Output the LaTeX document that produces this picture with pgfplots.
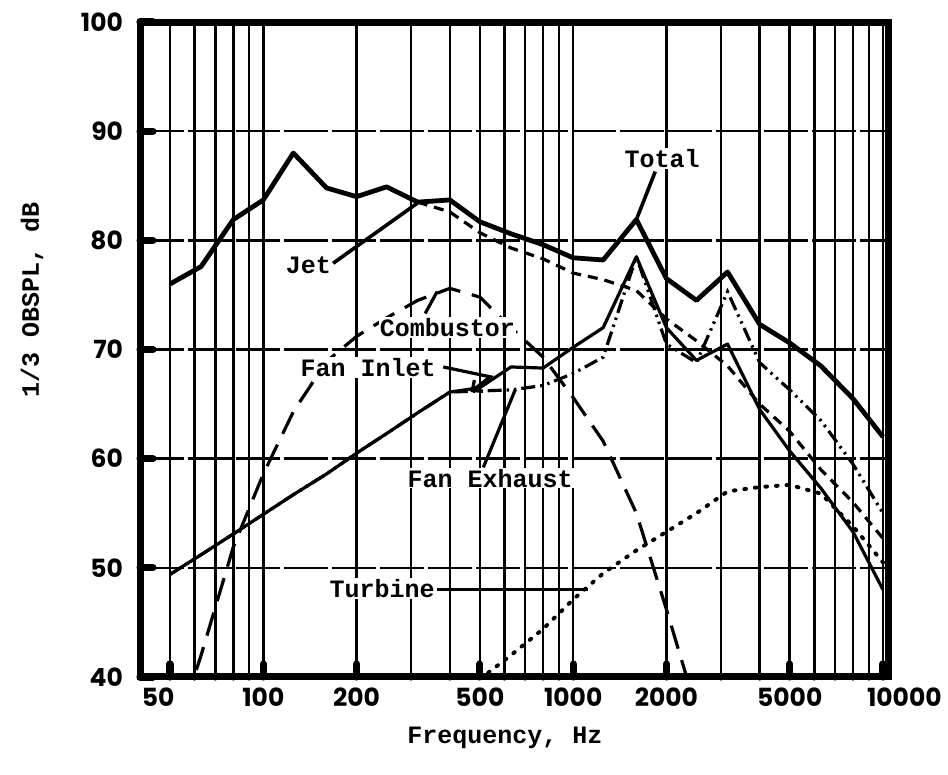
\documentclass[border=0pt]{standalone}
\usepackage{fontspec}
\usepackage{pgfplots}
\pgfplotsset{compat=1.18}
\usetikzlibrary{arrows.meta}
\newfontfamily\tw{Liberation Mono}
\newfontfamily\numfont{Poppins}
\newcommand{\lbl}{\tw\bfseries\fontsize{12.5}{14}\selectfont}

\begin{document}
\begin{tikzpicture}
\begin{axis}[
  at={(0,0)}, anchor=south west,
  scale only axis, width=374pt, height=327.5pt,
  xmode=log, xmin=40, xmax=10380, ymin=40, ymax=100,
  xtick={50,100,200,500,1000,2000,5000,10000},
  xticklabels={\makebox[0pt]{\hspace*{-12pt}50},100,200,500,1000,2000,5000,\makebox[0pt][l]{\hspace*{-8pt}10000}},
  minor xtick={60,70,80,90,300,400,600,700,800,900,3000,4000,6000,7000,8000,9000},
  ytick={40,50,...,100},
  yticklabels={40,50,60,70,80,90,100},
  grid=both,
  major grid style={black, line width=1.3pt},
  minor grid style={black, line width=1.3pt},
  y grid style={dash pattern=on 22pt off 2pt},
  tick align=inside, tick pos=left,
  major tick length=6.5pt, minor tick length=0pt,
  tick style={black, line width=3.6pt, line cap=round},
  axis line style={black, line width=3.5pt},
  ticklabel style={font=\numfont\bfseries\fontsize{12.5}{14}\selectfont},
  yticklabel style={xshift=-5pt},
  xticklabel style={yshift=-2pt},
  clip=true,
]
% Total
\addplot[black, line width=2.4pt, line join=round] coordinates {
(50,76.0) (63,77.6) (80,81.9) (100,83.7) (125,88.0) (160,84.8) (200,84.0)
(250,84.9) (315,83.5) (400,83.7) (500,81.7) (630,80.6) (800,79.6) (1000,78.4)
(1250,78.2) (1600,81.9) (2000,76.5) (2500,74.5) (3150,77.1) (4000,72.3)
(5000,70.6) (6300,68.5) (8000,65.5) (10000,62.0)};
% Jet (follows Total below 315 Hz)
\addplot[black, line width=1.6pt, dash pattern=on 5pt off 3.5pt] coordinates {
(315,83.5) (400,82.6) (500,80.7) (630,79.3) (800,78.3) (1000,77.0) (1250,76.4)
(1600,75.4) (2000,72.8) (2500,70.8) (3150,68.5) (4000,65.0) (5000,62.5)
(6300,59.0) (8000,56.0) (10000,52.7)};
% Combustor
\addplot[black, line width=1.6pt, dash pattern=on 12pt off 6pt] coordinates {
(56,37.5) (63,42.0) (80,51.9) (100,58.6) (125,64.3) (160,68.9) (200,71.2)
(250,72.9) (315,74.5) (400,75.6) (500,74.8) (630,72.0) (800,69.3) (1000,65.6)
(1250,61.6) (1600,55.0) (2000,46.2) (2500,37.0)};
% Fan inlet
\addplot[black, line width=1.6pt, line join=round] coordinates {
(50,49.4) (63,51.2) (80,53.1) (100,54.9) (125,56.7) (160,58.6) (200,60.5)
(250,62.3) (315,64.2) (400,66.1) (500,66.5) (630,68.4) (800,68.3) (1000,70.2)
(1250,72.0) (1600,78.5) (2000,72.0) (2500,69.0) (3150,70.5) (4000,64.5)
(5000,60.7) (6300,57.3) (8000,53.3) (10000,48.0)};
% Fan exhaust
\addplot[black, line width=1.6pt, dash pattern=on 7pt off 2.5pt on 1.2pt off 2.5pt on 1.2pt off 2.5pt] coordinates {
(50,49.4) (63,51.2) (80,53.1) (100,54.9) (125,56.7) (160,58.6) (200,60.5)
(250,62.3) (315,64.2) (400,66.1) (500,66.2) (630,66.3) (800,66.7) (1000,67.8)
(1250,69.3) (1600,78.5) (2000,70.5) (2500,68.8) (3150,75.3) (4000,68.8)
(5000,66.3) (6300,63.5) (8000,59.5) (10000,55.0)};
% Turbine
\addplot[black, line width=2pt, line cap=round, dash pattern=on 0.8pt off 4.5pt] coordinates {
(500,39.8) (630,42.0) (800,44.4) (1000,47.1) (1250,49.5) (1600,51.6) (2000,53.3)
(2500,55.0) (3150,57.0) (4000,57.4) (5000,57.6) (6300,56.8) (8000,53.8) (10000,50.5)};

% labels and leaders
\draw[black, line width=1.8pt] (axis cs:1841,86.3) -- (axis cs:1600,81.9);
\node[fill=white, inner sep=0.5pt] at (axis cs:1936,87.5) {\lbl Total};
\draw[black, line width=1.8pt] (axis cs:168,77.9) -- (axis cs:314,83.4);
\node[fill=white, inner sep=0.5pt] at (axis cs:139.7,77.7) {\lbl Jet};
\draw[black, line width=1.6pt] (axis cs:333,73.3) -- (axis cs:364,75.3);
\node[fill=white, inner sep=0.5pt] at (axis cs:393,72.0) {\lbl Combustor};
\draw[black, line width=1.6pt, -{Straight Barb[length=4pt,width=7pt]}]
  (axis cs:381,68.4) -- (axis cs:540,67.5) -- (axis cs:466,66.1);
\node[fill=white, inner sep=0.5pt] at (axis cs:218,68.35) {\lbl Fan Inlet};
\draw[black, line width=1.6pt] (axis cs:513,59.2) -- (axis cs:650,66.3);
\node[fill=white, inner sep=0.5pt] at (axis cs:540,58.2) {\lbl Fan Exhaust};
\draw[black, line width=1.8pt] (axis cs:364,48.0) -- (axis cs:1117,48.0);
\node[fill=white, inner sep=0.5pt] at (axis cs:242,48.1) {\lbl Turbine};
\end{axis}
\node[rotate=90] at (-54pt,188.5pt) {\lbl 1/3 OBSPL, dB};
\node at (182.5pt,-30.5pt) {\lbl Frequency, Hz};
\pgfresetboundingbox
\path[use as bounding box] (-70pt,-49pt) rectangle (404pt,338.5pt);
\end{tikzpicture}
\end{document}
